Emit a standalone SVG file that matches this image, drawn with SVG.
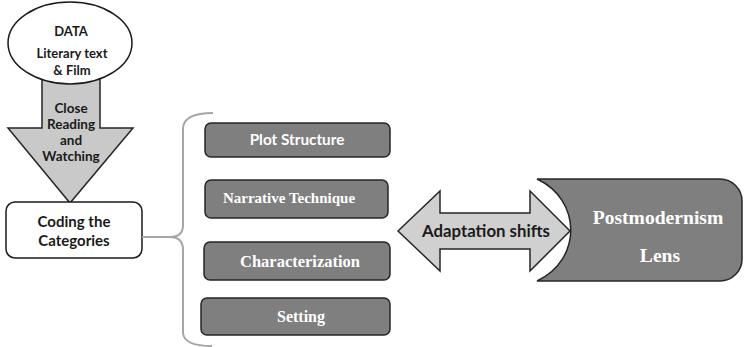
<svg xmlns="http://www.w3.org/2000/svg" width="744" height="347" viewBox="0 0 744 347">
<style>
.sans{font-family:Lato,"Liberation Sans",sans-serif;font-weight:bold;fill:#1a1a1a;text-anchor:middle}
.serif{font-family:"Liberation Serif","DejaVu Serif",serif;font-weight:bold;fill:#ffffff;text-anchor:middle}
.cat{fill:#7f7f7f;stroke:#262626;stroke-width:1.5}
.conn{fill:none;stroke:#a6a6a6;stroke-width:2}
</style>
<rect width="744" height="347" fill="#ffffff"/>
<g id="close-reading-arrow">
<polygon points="42,78 100,78 100,128 133,128 70,203 8,128 42,128" fill="#c9c9c9" stroke="#262626" stroke-width="1.5"/>
<text class="sans" font-size="13.5" x="71" y="113">Close</text>
<text class="sans" font-size="13.5" x="71" y="129">Reading</text>
<text class="sans" font-size="13.5" x="71" y="145">and</text>
<text class="sans" font-size="13.5" x="71" y="161">Watching</text>
</g>
<g id="data">
<ellipse cx="70" cy="43" rx="62" ry="41" fill="#ffffff" stroke="#1a1a1a" stroke-width="1.5"/>
<text class="sans" font-size="13" x="71" y="36">DATA</text>
<text class="sans" font-size="13" x="72" y="58">Literary text</text>
<text class="sans" font-size="13" x="72" y="75">&amp; Film</text>
</g>
<g id="coding">
<rect x="6" y="202" width="136" height="56" rx="9" fill="#ffffff" stroke="#1a1a1a" stroke-width="1.5"/>
<text class="sans" font-size="15" x="74" y="227">Coding the</text>
<text class="sans" font-size="15" x="74" y="246">Categories</text>
</g>
<g id="connectors">
<path class="conn" d="M142,237 H170"/>
<path class="conn" d="M213,113 Q184,113 183,128 L183,225 Q183,237 170,237 Q183,237 183,250 L183,333 Q184,346 212,346"/>
</g>
<g id="plot-structure">
<rect class="cat" x="205" y="123" width="185" height="34" rx="6"/>
<text class="sans" font-size="15.3" x="297" y="145" style="fill:#ffffff">Plot Structure</text>
</g>
<g id="narrative-technique">
<rect class="cat" x="205" y="180" width="183" height="38" rx="6"/>
<text class="serif" font-size="15" x="289" y="203">Narrative Technique</text>
</g>
<g id="characterization">
<rect class="cat" x="204" y="242" width="186" height="38" rx="6"/>
<text class="serif" font-size="16.5" x="300" y="267">Characterization</text>
</g>
<g id="setting">
<rect class="cat" x="201" y="298" width="189" height="37" rx="6"/>
<text class="serif" font-size="16" x="301" y="322">Setting</text>
</g>
<g id="adaptation-shifts">
<polygon points="398,231 440,191 440,213 530,213 530,191 570,231 530,271 530,249 440,249 440,271" fill="#d0d0d0" stroke="#262626" stroke-width="1.5"/>
<text class="sans" font-size="16.8" x="486" y="237">Adaptation shifts</text>
</g>
<g id="postmodernism-lens">
<path d="M537,179 H720 A22,22 0 0 1 742,201 V259 A22,22 0 0 1 720,281 H537 C582,260 582,200 537,179 Z" fill="#7f7f7f" stroke="#262626" stroke-width="1.5"/>
<text class="serif" font-size="19.6" x="658" y="224">Postmodernism</text>
<text class="serif" font-size="19.6" x="660" y="262">Lens</text>
</g>
</svg>
